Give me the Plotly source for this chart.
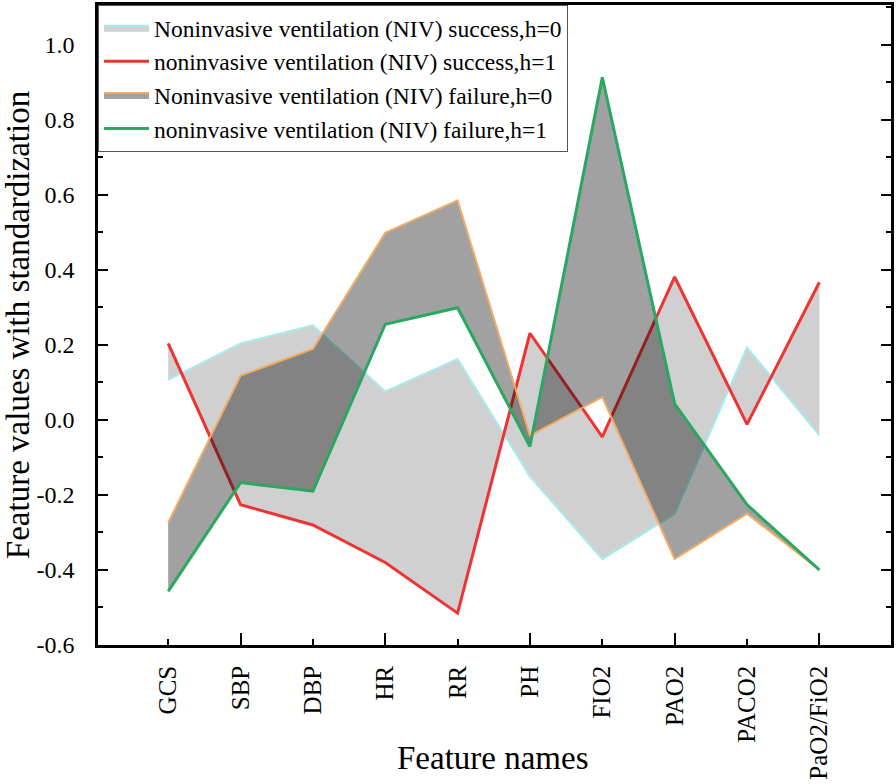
import plotly.graph_objects as go

features = ["GCS", "SBP", "DBP", "HR", "RR", "PH", "FIO2", "PAO2", "PACO2", "PaO2/FiO2"]

success_h0 = [0.107, 0.204, 0.252, 0.076, 0.162, -0.151, -0.371, -0.250, 0.193, -0.041]
success_h1 = [0.204, -0.226, -0.280, -0.380, -0.515, 0.231, -0.045, 0.381, -0.012, 0.367]
failure_h0 = [-0.274, 0.118, 0.189, 0.499, 0.585, -0.042, 0.061, -0.371, -0.250, -0.400]
failure_h1 = [-0.457, -0.167, -0.190, 0.255, 0.299, -0.071, 0.913, 0.043, -0.226, -0.400]

y_ticks = [-0.6, -0.4, -0.2, 0.0, 0.2, 0.4, 0.6, 0.8, 1.0]
y_tick_text = ["-0.6", "-0.4", "-0.2", "0.0", "0.2", "0.4", "0.6", "0.8", "1.0"]

RED = "#ee3333"
GREEN = "#2aa862"
CYAN = "#a6ecec"
ORANGE = "#f2ac66"
FONT = "Liberation Serif, Times New Roman, serif"

xs = list(range(len(features)))

fig = go.Figure()

# success band: red base (invisible), cyan filled to it, then red line on top
fig.add_trace(go.Scatter(x=xs, y=success_h1, mode="lines", line=dict(width=0, color=RED),
                         showlegend=False, hoverinfo="skip"))
fig.add_trace(go.Scatter(x=xs, y=success_h0, mode="lines", fill="tonexty",
                         fillcolor="rgba(0,0,0,0.185)", line=dict(color=CYAN, width=2),
                         name="Noninvasive ventilation (NIV) success,h=0"))
fig.add_trace(go.Scatter(x=xs, y=success_h1, mode="lines", line=dict(color=RED, width=3),
                         name="noninvasive ventilation (NIV) success,h=1"))

# failure band: green base (invisible), orange filled to it, then green line on top
fig.add_trace(go.Scatter(x=xs, y=failure_h1, mode="lines", line=dict(width=0, color=GREEN),
                         showlegend=False, hoverinfo="skip"))
fig.add_trace(go.Scatter(x=xs, y=failure_h0, mode="lines", fill="tonexty",
                         fillcolor="rgba(0,0,0,0.37)", line=dict(color=ORANGE, width=2),
                         name="Noninvasive ventilation (NIV) failure,h=0"))
fig.add_trace(go.Scatter(x=xs, y=failure_h1, mode="lines", line=dict(color=GREEN, width=3),
                         name="noninvasive ventilation (NIV) failure,h=1"))

fig.update_layout(
    width=896,
    height=784,
    plot_bgcolor="white",
    paper_bgcolor="white",
    margin=dict(l=98, r=3, t=2, b=139),
    font=dict(family=FONT, color="black", size=24),
    legend=dict(
        x=0, y=1, xanchor="left", yanchor="top", traceorder="normal",
        bgcolor="white", bordercolor="#555555", borderwidth=1,
        font=dict(family=FONT, size=23.5, color="black"),
        itemwidth=45, tracegroupgap=0,
    ),
    annotations=[
        dict(text="Feature names", xref="paper", yref="paper", x=0.498, y=-0.176,
             xanchor="center", yanchor="middle", showarrow=False,
             font=dict(family=FONT, size=33, color="black")),
    ],
)

fig.update_xaxes(
    range=[-0.97, 9.99],
    tickmode="array", tickvals=xs, ticktext=features, tickangle=-90,
    ticks="inside", ticklen=6, tickwidth=2, tickcolor="black",
    minor=dict(tickmode="array", tickvals=[1, 3, 5, 7, 9], ticks="inside",
               ticklen=12, tickwidth=2, tickcolor="black"),
    showline=True, linewidth=2.5, linecolor="black", mirror=True,
    showgrid=False, zeroline=False,
    tickfont=dict(family=FONT, size=25), ticklabelstandoff=8,
)

fig.update_yaxes(
    range=[-0.6, 1.106],
    tickmode="array", tickvals=y_ticks, ticktext=y_tick_text,
    ticks="inside", ticklen=10, tickwidth=2, tickcolor="black",
    minor=dict(dtick=0.1, ticks="inside", ticklen=5, tickwidth=2, tickcolor="black"),
    showline=True, linewidth=2.5, linecolor="black", mirror="allticks",
    showgrid=False, zeroline=False,
    tickfont=dict(family=FONT, size=24), ticklabelstandoff=16,
    title=dict(text="Feature values with standardization", font=dict(family=FONT, size=33),
               standoff=6),
)

fig.write_html(
    "out.html",
    config={"displayModeBar": False},
    post_script="document.body.style.margin='0';document.body.style.overflow='hidden';",
)
